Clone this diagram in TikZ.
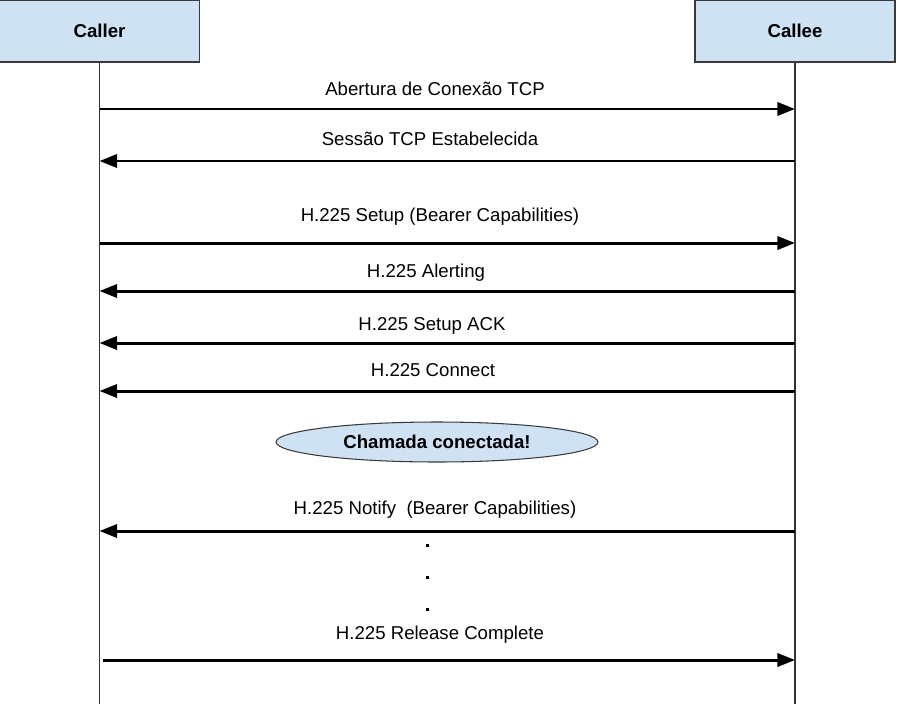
\documentclass[tikz,border=0pt]{standalone}
\usepackage{fontspec}
\setmainfont{Liberation Sans}
\usetikzlibrary{arrows.meta,shapes.geometric}
\definecolor{boxblue}{HTML}{CFE2F3}
\definecolor{boxline}{HTML}{3A3A3A}

\begin{document}
\begin{tikzpicture}[x=0.02cm,y=-0.02cm,every node/.style={black},
    actor/.style={draw=boxline,fill=boxblue,line width=0.8pt,minimum width=4cm,minimum height=1.24cm,font=\fontsize{10.6}{12}\selectfont\bfseries},
    lifeline/.style={line width=0.7pt,black!80},
    msg/.style={line width=1.7pt,-{Triangle[length=10pt,width=7.5pt]}},
    msglabel/.style={font=\fontsize{10.6}{12}\selectfont},
    etc/.style={fill=black,minimum size=0.06cm,inner sep=0pt}]
    	\useasboundingbox (0,0) rectangle (900,704);

    	% participants
    	\node[actor] (caller) at (99.5,31) {Caller};
    	\node[actor] (callee) at (795,31) {Callee};
    	\coordinate (caller-end) at (99.5,704);
    	\coordinate (callee-end) at (795,704);
    	\draw[lifeline] (caller.south) -- (caller-end);
    	\draw[lifeline] (callee.south) -- (callee-end);

    	% TCP
    	\coordinate (l1) at (99.5,109);  \coordinate (r1) at (795,109);
    	\node[msglabel] (m1) at (435,89) {Abertura de Conexão TCP};
    	\draw[msg] (l1) -- (r1);

    	\coordinate (l2) at (99.5,161);  \coordinate (r2) at (795,161);
    	\node[msglabel] (m2) at (430,139) {Sessão TCP Estabelecida};
    	\draw[msg] (r2) -- (l2);

    	% H.225
    	\coordinate (l3) at (99.5,243);  \coordinate (r3) at (795,243);
    	\node[msglabel] (m3) at (440,217) {H.225 Setup (Bearer Capabilities)};
    	\draw[msg] (l3) -- (r3);

    	\coordinate (l4) at (99.5,291);  \coordinate (r4) at (795,291);
    	\node[msglabel] (m4) at (426,273) {H.225 Alerting};
    	\draw[msg] (r4) -- (l4);

    	\coordinate (l5) at (99.5,343);  \coordinate (r5) at (795,343);
    	\node[msglabel] (m5) at (432,326) {H.225 Setup ACK};
    	\draw[msg] (r5) -- (l5);

    	\coordinate (l6) at (99.5,391);  \coordinate (r6) at (795,391);
    	\node[msglabel] (m6) at (433,370) {H.225 Connect};
    	\draw[msg] (r6) -- (l6);

    	\node[ellipse,draw=boxline,fill=boxblue,line width=0.6pt,minimum width=6.44cm,minimum height=0.8cm,
    	      font=\fontsize{10.6}{12}\selectfont\bfseries] (connected) at (437,442) {Chamada conectada!};

    	\coordinate (l7) at (99.5,531);  \coordinate (r7) at (795,531);
    	\node[msglabel] (m7) at (435,510) {H.225 Notify\ \ (Bearer Capabilities)};
    	\draw[msg] (r7) -- (l7);

    	\node[etc] (dot1) at (427,545) {};
    	\node[etc] (dot2) at (427,577) {};
    	\node[etc] (dot3) at (427,609) {};

    	\coordinate (l8) at (103,660);  \coordinate (r8) at (795,660);
    	\node[msglabel] (m8) at (440,635) {H.225 Release Complete};
    	\draw[msg] (l8) -- (r8);
    \end{tikzpicture}
\end{document}
